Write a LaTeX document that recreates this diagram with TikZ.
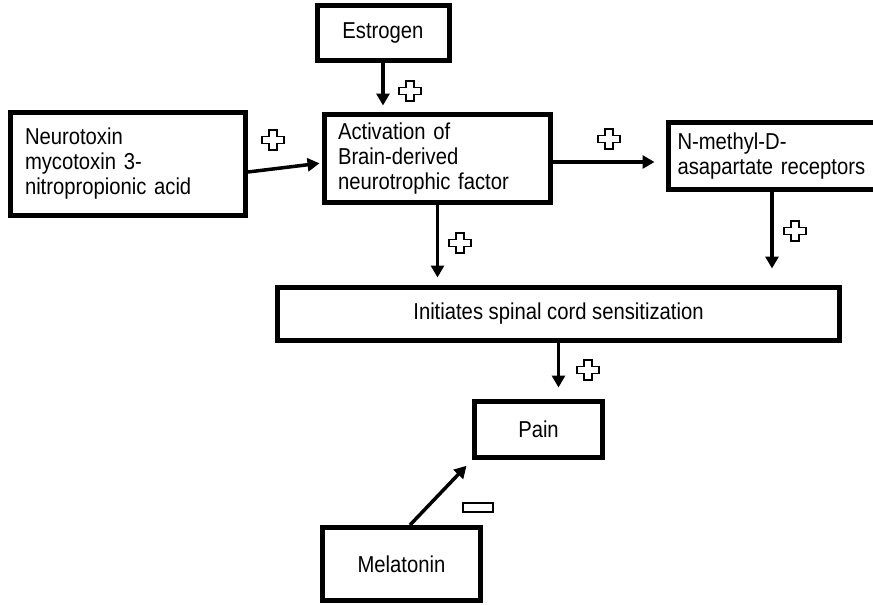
\documentclass[tikz,border=0pt]{standalone}
\usepackage{fontspec}
\setmainfont{Liberation Sans}[FakeStretch=0.88]
\usetikzlibrary{arrows.meta,positioning}

\begin{document}
\begin{tikzpicture}[x=1pt,y=-1pt, every node/.style={font=\fontsize{23}{25}\selectfont}, b/.style={draw,line width=5pt,align=center,inner sep=0pt}, bl/.style={b,align=left}, a/.style={-{Triangle[length=12pt,width=13pt]},line width=3.5pt}, pluscross/.pic={\draw[line width=1.4pt,fill=white] (-4,-10)--(4,-10)--(4,-3.5)--(11,-3.5)--(11,3.5)--(4,3.5)--(4,10)--(-4,10)--(-4,3.5)--(-11,3.5)--(-11,-3.5)--(-4,-3.5)--cycle;}]
\useasboundingbox (0,0) rectangle (873,605);
\node[b,minimum width=132pt,minimum height=55pt] (estrogen) at (383,33) {Estrogen};
\node[bl,text width=206pt,inner xsep=14.5pt,minimum height=103pt] (neuro) at (128,164) {Neurotoxin\\mycotoxin 3-\\nitropropionic acid};
\node[bl,text width=199pt,inner xsep=13.5pt,minimum height=88pt] (act) at (437.5,158.5) {Activation of\\Brain-derived\\neurotrophic factor};
\node[bl,text width=189pt,inner xsep=9pt,minimum height=67pt] (nmda) at (772,156) {N-methyl-D-\\asapartate receptors};
\node[b,minimum width=562pt,minimum height=53pt] (init) at (558.5,314) {Initiates spinal cord sensitization};
\node[b,minimum width=128pt,minimum height=56pt] (pain) at (538.5,429.5) {Pain};
\node[b,minimum width=158pt,minimum height=73pt] (mela) at (401.5,564) {Melatonin};
\draw[a,shorten >=6.5pt] (estrogen.south) -- (estrogen.south |- act.north);
\draw[a,shorten >=2.5pt] ([yshift=-8pt]neuro.east) -- ([yshift=-4.5pt]act.west);
\draw[a,shorten >=11.5pt] ([yshift=-3.5pt]act.east) -- ([yshift=-3.5pt]act.east -| nmda.west);
\draw[a,shorten >=7.5pt] (act.south) -- (act.south |- init.north);
\draw[a,shorten >=16.5pt] (nmda.south) -- (nmda.south |- init.north);
\draw[a,shorten >=11.5pt] (init.south) -- (init.south |- pain.north);
\draw[a,shorten >=8pt] ([xshift=8.5pt]mela.north) -- (pain.south west);
\pic at (410,91) {pluscross};
\pic at (273,140) {pluscross};
\pic at (609,139) {pluscross};
\pic at (460,243) {pluscross};
\pic at (795,231) {pluscross};
\pic at (588,370) {pluscross};
\draw[line width=1.4pt] (463,503) rectangle (493,512);
\end{tikzpicture}
\end{document}
